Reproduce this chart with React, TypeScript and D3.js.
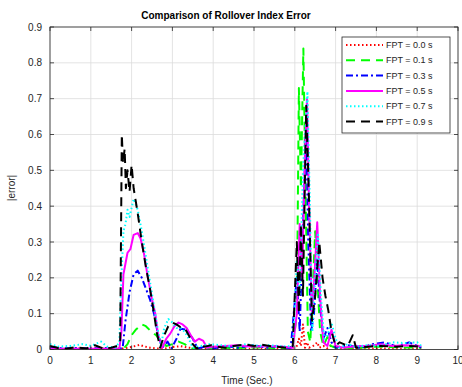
import React from "react";
import * as d3 from "d3";

const TITLE = "Comparison of Rollover Index Error";
const X_LABEL = "Time (Sec.)";
const Y_LABEL = "|error|";
const X_TICKS = [0, 1, 2, 3, 4, 5, 6, 7, 8, 9, 10];
const Y_TICKS = [0, 0.1, 0.2, 0.3, 0.4, 0.5, 0.6, 0.7, 0.8, 0.9];
const SERIES_NAMES = ["FPT = 0.0 s", "FPT = 0.1 s", "FPT = 0.3 s", "FPT = 0.5 s", "FPT = 0.7 s", "FPT = 0.9 s"];

const FPT_00: [number, number][] = [[0,0.003],[0.5,0.002],[1,0.003],[1.5,0.002],[1.8,0.003],[1.95,0.006],[2.1,0.01],[2.2,0.013],[2.3,0.009],[2.45,0.005],[2.6,0.003],[2.8,0.002],[3.0,0.007],[3.2,0.009],[3.4,0.005],[3.6,0.003],[4,0.002],[5,0.002],[5.9,0.002],[6.05,0.01],[6.1,0.03],[6.15,0.01],[6.2,0.07],[6.25,0.005],[6.3,0.02],[6.35,0.005],[6.45,0.01],[6.55,0.02],[6.6,0.005],[6.7,0.01],[6.8,0.003],[6.9,0.012],[7.0,0.003],[7.5,0.002],[8,0.003],[8.5,0.002],[9.1,0.003]];
const FPT_01: [number, number][] = [[0,0.002],[1,0.002],[1.8,0.002],[1.9,0.015],[2.0,0.04],[2.1,0.055],[2.25,0.07],[2.35,0.065],[2.5,0.048],[2.6,0.04],[2.7,0.025],[2.85,0.01],[3.0,0.015],[3.15,0.022],[3.3,0.015],[3.45,0.003],[3.6,0.002],[4,0.005],[4.5,0.004],[5,0.006],[5.5,0.004],[5.95,0.005],[6.05,0.1],[6.1,0.73],[6.15,0.45],[6.21,0.84],[6.27,0.4],[6.32,0.05],[6.38,0.02],[6.45,0.2],[6.5,0.33],[6.55,0.2],[6.62,0.05],[6.7,0.01],[6.8,0.035],[6.88,0.01],[7,0.005],[7.5,0.004],[8,0.008],[8.5,0.006],[9.1,0.005]];
const FPT_03: [number, number][] = [[0,0.008],[0.3,0.003],[0.6,0.004],[1,0.003],[1.4,0.004],[1.78,0.003],[1.85,0.08],[1.95,0.16],[2.05,0.21],[2.15,0.22],[2.25,0.2],[2.35,0.17],[2.45,0.14],[2.55,0.1],[2.65,0.04],[2.75,0.005],[2.88,0.022],[2.98,0.003],[3.1,0.03],[3.2,0.058],[3.35,0.055],[3.5,0.03],[3.62,0.003],[3.8,0.008],[4,0.003],[4.3,0.01],[4.6,0.005],[5,0.012],[5.3,0.005],[5.6,0.01],[5.9,0.003],[6.05,0.2],[6.12,0.05],[6.2,0.35],[6.28,0.62],[6.33,0.3],[6.4,0.05],[6.47,0.1],[6.55,0.25],[6.62,0.12],[6.7,0.03],[6.8,0.06],[6.9,0.02],[7.0,0.005],[7.3,0.012],[7.6,0.004],[7.9,0.015],[8.2,0.02],[8.5,0.008],[8.8,0.02],[9.1,0.005]];
const FPT_05: [number, number][] = [[0,0.002],[1,0.002],[1.7,0.002],[1.75,0.05],[1.8,0.21],[1.85,0.24],[1.9,0.27],[1.97,0.28],[2.05,0.32],[2.15,0.325],[2.22,0.31],[2.3,0.27],[2.4,0.2],[2.5,0.14],[2.58,0.1],[2.65,0.04],[2.75,0.005],[2.85,0.03],[2.95,0.045],[3.05,0.065],[3.15,0.075],[3.25,0.07],[3.35,0.06],[3.45,0.04],[3.55,0.022],[3.65,0.03],[3.75,0.025],[3.85,0.005],[4.0,0.008],[4.3,0.01],[4.6,0.012],[5.0,0.008],[5.3,0.01],[5.7,0.008],[5.95,0.005],[6.05,0.1],[6.12,0.35],[6.18,0.2],[6.25,0.55],[6.3,0.7],[6.35,0.4],[6.42,0.1],[6.48,0.2],[6.55,0.355],[6.62,0.15],[6.7,0.02],[6.8,0.01],[6.9,0.055],[7.0,0.01],[7.2,0.005],[7.5,0.01],[7.8,0.01],[8.1,0.015],[8.4,0.01],[8.7,0.012],[9.1,0.01]];
const FPT_07: [number, number][] = [[0,0.015],[0.2,0.008],[0.5,0.01],[0.8,0.015],[1.0,0.01],[1.25,0.022],[1.4,0.008],[1.6,0.005],[1.7,0.02],[1.75,0.2],[1.8,0.33],[1.85,0.35],[1.9,0.39],[1.95,0.37],[2.05,0.42],[2.15,0.39],[2.25,0.33],[2.35,0.26],[2.45,0.19],[2.55,0.12],[2.65,0.05],[2.72,0.01],[2.8,0.06],[2.9,0.085],[3.0,0.075],[3.1,0.06],[3.2,0.06],[3.3,0.05],[3.4,0.03],[3.5,0.005],[3.7,0.01],[3.9,0.015],[4.2,0.012],[4.5,0.008],[4.8,0.015],[5.1,0.01],[5.4,0.012],[5.7,0.008],[5.95,0.01],[6.05,0.25],[6.12,0.15],[6.2,0.5],[6.31,0.72],[6.37,0.4],[6.43,0.05],[6.5,0.2],[6.57,0.32],[6.64,0.15],[6.72,0.03],[6.8,0.04],[6.9,0.075],[7.0,0.03],[7.1,0.005],[7.3,0.015],[7.5,0.008],[7.8,0.012],[8.1,0.01],[8.4,0.02],[8.7,0.018],[9.0,0.02],[9.1,0.01]];
const FPT_09: [number, number][] = [[0,0.01],[0.2,0.004],[0.4,0.002],[0.6,0.006],[0.9,0.003],[1.1,0.012],[1.3,0.003],[1.5,0.005],[1.65,0.01],[1.72,0.02],[1.76,0.6],[1.79,0.52],[1.83,0.56],[1.86,0.45],[1.9,0.5],[1.95,0.44],[2.0,0.515],[2.05,0.45],[2.15,0.38],[2.25,0.3],[2.35,0.23],[2.45,0.17],[2.55,0.1],[2.62,0.046],[2.7,0.005],[2.8,0.04],[2.9,0.065],[3.0,0.075],[3.1,0.07],[3.2,0.062],[3.3,0.06],[3.4,0.04],[3.5,0.015],[3.6,0.002],[3.7,0.012],[3.8,0.008],[3.95,0.012],[4.1,0.008],[4.3,0.005],[4.5,0.01],[4.8,0.014],[5.0,0.01],[5.2,0.013],[5.5,0.008],[5.8,0.005],[5.95,0.01],[6.05,0.3],[6.1,0.1],[6.15,0.35],[6.2,0.15],[6.28,0.68],[6.34,0.45],[6.42,0.08],[6.5,0.15],[6.6,0.3],[6.68,0.2],[6.75,0.15],[6.82,0.11],[6.9,0.05],[7.0,0.01],[7.1,0.02],[7.2,0.015],[7.3,0.01],[7.42,0.04],[7.5,0.005],[7.8,0.008],[8.1,0.01],[8.5,0.008],[8.8,0.01],[9.1,0.008]];

const SERIES_DATA = [FPT_00, FPT_01, FPT_03, FPT_05, FPT_07, FPT_09];
const STYLES = [
  { color: "#ff0000", dash: "1.5,2.5" },
  { color: "#00ff00", dash: "9,6" },
  { color: "#0000ff", dash: "7,3,2,3" },
  { color: "#ff00ff", dash: "" },
  { color: "#00ffff", dash: "1.5,2.5" },
  { color: "#000000", dash: "9,6" },
];

const W = 462;
const H = 387;
const M = { left: 50, right: 4, top: 27, bottom: 37.5 };
const FONT = "'Liberation Sans', Arial, Helvetica, sans-serif";
const AX = "#262626";

export default function App() {
  const x = d3.scaleLinear().domain([0, 10]).range([M.left, W - M.right]);
  const y = d3.scaleLinear().domain([0, 0.9]).range([H - M.bottom, M.top]);
  const line = d3
    .line<[number, number]>()
    .x((d) => x(d[0]))
    .y((d) => y(d[1]));
  const x0 = x(0), x1 = x(10), y0 = y(0), y1 = y(0.9);
  const lgX = 342, lgY = 37, lgW = 108, lgH = 96, lgStep = 15.3;

  return (
    <svg width={W} height={H} style={{ position: "absolute", left: 0, top: 0, background: "#fff" }}>
      <rect x={0} y={0} width={W} height={H} fill="#fff" />
      <rect x={x0} y={y1} width={x1 - x0} height={y0 - y1} fill="#fff" />
      {X_TICKS.map((t) => (
        <line key={"gx" + t} x1={x(t)} x2={x(t)} y1={y0} y2={y1} stroke="#dcdcdc" strokeWidth={0.8} />
      ))}
      {Y_TICKS.map((t) => (
        <line key={"gy" + t} x1={x0} x2={x1} y1={y(t)} y2={y(t)} stroke="#dcdcdc" strokeWidth={0.8} />
      ))}
      <g clipPath="url(#clip)">
        {SERIES_DATA.map((d, i) => (
          <path
            key={i}
            d={line(d) || ""}
            fill="none"
            stroke={STYLES[i].color}
            strokeWidth={2}
            strokeDasharray={STYLES[i].dash || undefined}
            strokeLinejoin="round"
          />
        ))}
      </g>
      <defs>
        <clipPath id="clip">
          <rect x={x0} y={y1 - 2} width={x1 - x0} height={y0 - y1 + 2} />
        </clipPath>
      </defs>
      <rect x={x0} y={y1} width={x1 - x0} height={y0 - y1} fill="none" stroke={AX} strokeWidth={0.8} />
      {X_TICKS.map((t) => (
        <g key={"tx" + t}>
          <line x1={x(t)} x2={x(t)} y1={y0} y2={y0 - 4} stroke={AX} strokeWidth={0.8} />
          <line x1={x(t)} x2={x(t)} y1={y1} y2={y1 + 4} stroke={AX} strokeWidth={0.8} />
          <text x={x(t)} y={y0 + 14} textAnchor="middle" fontFamily={FONT} fontSize={10} fill={AX}>
            {t}
          </text>
        </g>
      ))}
      {Y_TICKS.map((t) => (
        <g key={"ty" + t}>
          <line x1={x0} x2={x0 + 4} y1={y(t)} y2={y(t)} stroke={AX} strokeWidth={0.8} />
          <line x1={x1} x2={x1 - 4} y1={y(t)} y2={y(t)} stroke={AX} strokeWidth={0.8} />
          <text x={x0 - 8} y={y(t) + 3.5} textAnchor="end" fontFamily={FONT} fontSize={10} fill={AX}>
            {t === 0 ? "0" : t.toFixed(1)}
          </text>
        </g>
      ))}
      <text x={226} y={19} textAnchor="middle" fontFamily={FONT} fontSize={10} fontWeight="bold" fill="#000">
        {TITLE}
      </text>
      <text x={247} y={384} textAnchor="middle" fontFamily={FONT} fontSize={10} fill={AX}>
        {X_LABEL}
      </text>
      <text
        transform={`translate(15,188) rotate(-90)`}
        textAnchor="middle"
        fontFamily={FONT}
        fontSize={10}
        fill={AX}
      >
        {Y_LABEL}
      </text>
      <rect x={lgX} y={lgY} width={lgW} height={lgH} fill="#fff" stroke={AX} strokeWidth={0.8} />
      {SERIES_NAMES.map((n, i) => {
        const ly = lgY + 8 + i * lgStep;
        return (
          <g key={"lg" + i}>
            <line
              x1={lgX + 4}
              x2={lgX + 41}
              y1={ly}
              y2={ly}
              stroke={STYLES[i].color}
              strokeWidth={2}
              strokeDasharray={STYLES[i].dash || undefined}
            />
            <text x={lgX + 44} y={ly + 3} fontFamily={FONT} fontSize={9} fill={AX}>
              {n}
            </text>
          </g>
        );
      })}
    </svg>
  );
}
